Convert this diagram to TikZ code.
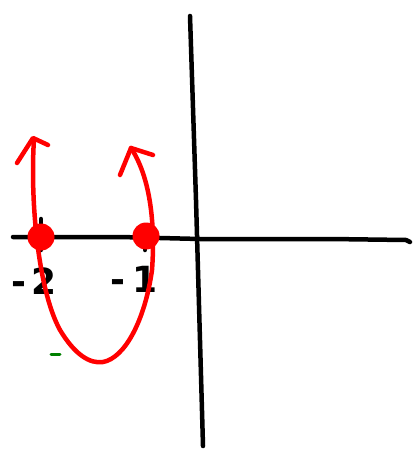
\documentclass[tikz,border=0pt]{standalone}
\usepackage{fontspec}
\setmainfont{DejaVu Sans}
\begin{document}
\begin{tikzpicture}[x=1pt,y=-1pt,
  axis/.style={line width=4.5pt,line cap=round,line join=round,black},
  curve/.style={line width=4.5pt,line cap=round,line join=round,red},
  lbl/.style={font=\fontsize{36}{36}\selectfont\bfseries,inner sep=0pt}]
\useasboundingbox (0,0) rectangle (414,449);
% axes
\draw[axis] (190,16) -- (196,200) -- (203,446);
\draw[axis] (13,237) -- (120,237) -- (200,239) -- (330,239) -- (406,240) -- (410,242);
% ticks
\draw[axis] (41,219) -- (41,250);
\draw[axis] (145,245) -- (145,250);
% labels
\node[lbl] (m2) at (34,281) {-\hspace{6pt}2};
\node[lbl] (m1) at (134,279) {-\hspace{8pt}1};
% parabola
\draw[curve] (34,139) .. controls (30,200) and (38,290) .. (60,330)
  .. controls (75,355) and (90,364) .. (103,362)
  .. controls (125,358) and (145,320) .. (152,270)
  .. controls (155,230) and (152,180) .. (131,148);
% arrowheads
\draw[curve] (17,163) -- (33,138) -- (48,145);
\draw[curve] (120,175) -- (131,148) -- (153,155);
% dots
\fill[red] (41,237) circle (13.5);
\fill[red] (146,236) circle (13.5);
% green mark
\draw[green!50!black,line width=3pt,line cap=round] (51,354) -- (60,354);
\end{tikzpicture}
\end{document}
